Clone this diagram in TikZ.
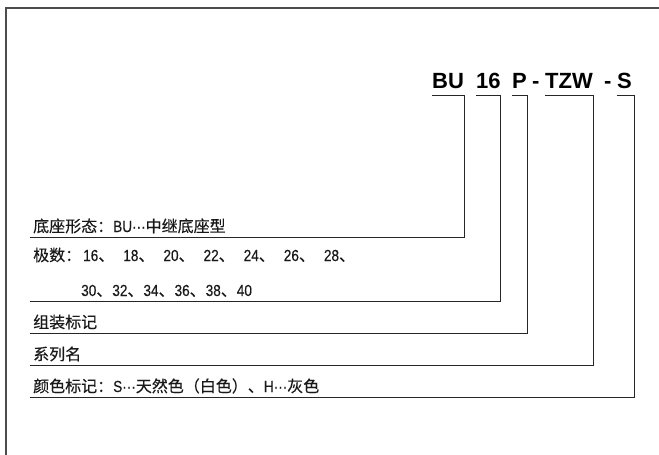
\documentclass[tikz,border=0pt]{standalone}
\usepackage{fontspec}
\setmainfont{Liberation Sans}
\newfontfamily\cjk[FakeBold=0.3]{Noto Sans CJK SC}
\newfontfamily\latn[FakeStretch=0.85,FakeBold=0.3]{Liberation Sans}
\newcommand\ltxt[1]{{\latn\fontsize{16}{16}\selectfont #1}}
\begin{document}
\begin{tikzpicture}[x=1pt,y=-1pt,
  frame/.style={draw=black!70, line width=1.6pt},
  conn/.style={draw=black!85, line width=1pt},
  part/.style={inner sep=0pt, anchor=base west, font=\fontsize{22}{22}\selectfont\bfseries},
  lab/.style={inner xsep=3pt, inner ysep=0pt, anchor=base west, text=black!90, font=\cjk\fontsize{16}{16}\selectfont}]
\useasboundingbox (0,0) rectangle (659,455);
\draw[frame] (6,455) -- (6,8) -- (659,8);
% title parts
\node[part] (bu) at (432,88) {BU};
\node[part] (n16) at (476,88) {16};
\node[part] (p) at (512,88) {P};
\node[part] (d1) at (532,88) {-};
\node[part] (tzw) at (545,88) {TZW};
\node[part] (d2) at (604,88) {-};
\node[part] (s) at (617,88) {S};
\coordinate (top) at (0,95);
% labels
\node[lab] (l1) at (30,232) {底座形态：\ltxt{BU···}中继底座型};
\node[lab] (l2a) at (30,261) {极数：\hspace{2pt}\ltxt{16}、\hspace{9pt}\ltxt{18}、\hspace{9pt}\ltxt{20}、\hspace{9pt}\ltxt{22}、\hspace{9pt}\ltxt{24}、\hspace{9pt}\ltxt{26}、\hspace{9pt}\ltxt{28}、};
\node[lab] (l2b) at (78,296) {\ltxt{30}、\ltxt{32}、\ltxt{34}、\ltxt{36}、\ltxt{38}、\ltxt{40}};
\node[lab] (l3) at (30,328) {组装标记};
\node[lab] (l4) at (30,360) {系列名};
\node[lab] (l5) at (30,392) {颜色标记：\ltxt{S···}天然色（白色）、\ltxt{H···}灰色};
\coordinate (e1) at (30,237);
\coordinate (e2) at (30,301);
\coordinate (e3) at (30,333);
\coordinate (e4) at (30,365);
\coordinate (e5) at (30,397);
% connectors
\draw[conn] (e1) -- (e1 -| bu.east) -- (bu.east |- top) -- (bu.west |- top);
\draw[conn] (e2) -- (e2 -| n16.east) -- (n16.east |- top) -- (n16.west |- top);
\draw[conn] (e3) -- (e3 -| p.east) -- (p.east |- top) -- (p.west |- top);
\draw[conn] (e4) -- (e4 -| tzw.east) -- (tzw.east |- top) -- (tzw.west |- top);
\draw[conn] (e5) -- ([xshift=2pt]e5 -| s.east) -- ([xshift=2pt]s.east |- top) -- (s.west |- top);
\end{tikzpicture}
\end{document}
